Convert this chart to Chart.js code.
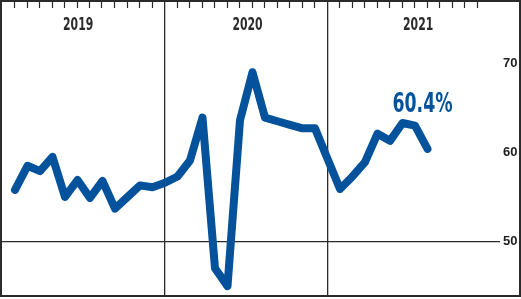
<!DOCTYPE html>
<html>
<head>
<meta charset="utf-8">
<style>
  html, body { margin: 0; padding: 0; background: #fff; }
  canvas { display: block; }
</style>
<script src="https://cdn.jsdelivr.net/npm/chart.js@4/dist/chart.umd.min.js"></script>
</head>
<body>
<canvas id="pmi" width="521" height="299"></canvas>
<script>
// monthly readings, Jan 2019 .. Oct 2021
const months = [
  '2019-01','2019-02','2019-03','2019-04','2019-05','2019-06','2019-07','2019-08','2019-09','2019-10','2019-11','2019-12',
  '2020-01','2020-02','2020-03','2020-04','2020-05','2020-06','2020-07','2020-08','2020-09','2020-10','2020-11','2020-12',
  '2021-01','2021-02','2021-03','2021-04','2021-05','2021-06','2021-07','2021-08','2021-09','2021-10'
];
const values = [
  55.8, 58.5, 57.9, 59.5, 55.0, 56.9, 54.9, 56.8, 53.7, 55.0, 56.3, 56.1,
  56.6, 57.3, 59.1, 63.9, 47.0, 45.0, 63.6, 69.0, 63.9, 63.5, 63.1, 62.7,
  62.7, 59.3, 55.9, 57.3, 58.9, 62.1, 61.3, 63.3, 63.0, 60.4
];
const years = ['2019', '2020', '2021'];
const yTicks = [50, 60, 70];

const blue = '#03529b';
const ink = '#2b2b2b';
const narrow = "'DejaVu Sans Condensed', 'DejaVu Sans', sans-serif";

// year dividers sit on these slots, small month ticks on the rest
const dividerAt = [12, 25];
const tickSlots = 38;
const yearCenter = [5.05, 18.6, 32.25];

const points = values.map((v, i) => ({ x: i, y: v }));

// condensed bold text: no narrow face installed, so squeeze horizontally
function squeezed(c, text, x, y, size, color, sx) {
  c.save();
  c.translate(x, y);
  c.scale(sx, 1);
  c.fillStyle = color;
  c.font = 'bold ' + size + 'px ' + narrow;
  c.textAlign = 'center';
  c.fillText(text, 0, 0);
  c.restore();
}

const decor = {
  id: 'decor',
  afterDraw(chart) {
    const c = chart.ctx;
    const xs = chart.scales.x;
    c.save();
    // month ticks along the top edge
    c.strokeStyle = ink;
    c.lineWidth = 1.2;
    for (let i = 0; i < tickSlots; i++) {
      if (dividerAt.includes(i)) continue;
      const px = Math.round(xs.getPixelForValue(i)) - 0.5;
      c.beginPath();
      c.moveTo(px, 2);
      c.lineTo(px, 8);
      c.stroke();
    }
    c.textBaseline = 'alphabetic';
    // year labels
    years.forEach((y, i) => squeezed(c, y, xs.getPixelForValue(yearCenter[i]), 29.5, 17, ink, 0.71));
    // latest value call-out
    const meta = chart.getDatasetMeta(0);
    const last = meta.data[meta.data.length - 1];
    squeezed(c, values[values.length - 1].toFixed(1) + '%', last.x - 5, 111.5, 26, blue, 0.74);
    // frame
    c.strokeStyle = ink;
    c.lineWidth = 2;
    c.strokeRect(1, 1, 519, 295);
    c.restore();
  }
};

new Chart(document.getElementById('pmi'), {
  type: 'line',
  data: {
    labels: months,
    datasets: [{
      data: points,
      borderColor: blue,
      borderWidth: 8,
      borderJoinStyle: 'round',
      borderCapStyle: 'round',
      pointRadius: 0,
      tension: 0
    }]
  },
  options: {
    responsive: false,
    animation: false,
    devicePixelRatio: 1,
    layout: { padding: { left: 2, top: 2, right: 1, bottom: 4 } },
    plugins: { legend: { display: false }, tooltip: { enabled: false } },
    scales: {
      x: {
        type: 'linear',
        min: -1.04,
        max: 38.8,
        afterBuildTicks: s => { s.ticks = dividerAt.map(v => ({ value: v })); },
        afterFit: s => { s.height = 0; s.paddingLeft = 0; s.paddingRight = 0; },
        border: { display: false },
        grid: { color: ink, lineWidth: 1.3, drawTicks: false },
        ticks: { display: false }
      },
      y: {
        position: 'right',
        min: 44.0,
        max: 76.88,
        afterBuildTicks: s => { s.ticks = yTicks.map(v => ({ value: v })); },
        afterFit: s => { s.width = 20; s.paddingTop = 0; s.paddingBottom = 0; },
        border: { display: false },
        grid: {
          drawTicks: false,
          lineWidth: 1.3,
          color: c => (c.tick && c.tick.value === 50 ? ink : 'rgba(0,0,0,0)')
        },
        ticks: {
          padding: 3,
          color: '#1e1e1e',
          font: { family: "'Liberation Sans', Arial, sans-serif", size: 13, weight: 'bold' }
        }
      }
    }
  },
  plugins: [decor]
});
</script>
</body>
</html>
